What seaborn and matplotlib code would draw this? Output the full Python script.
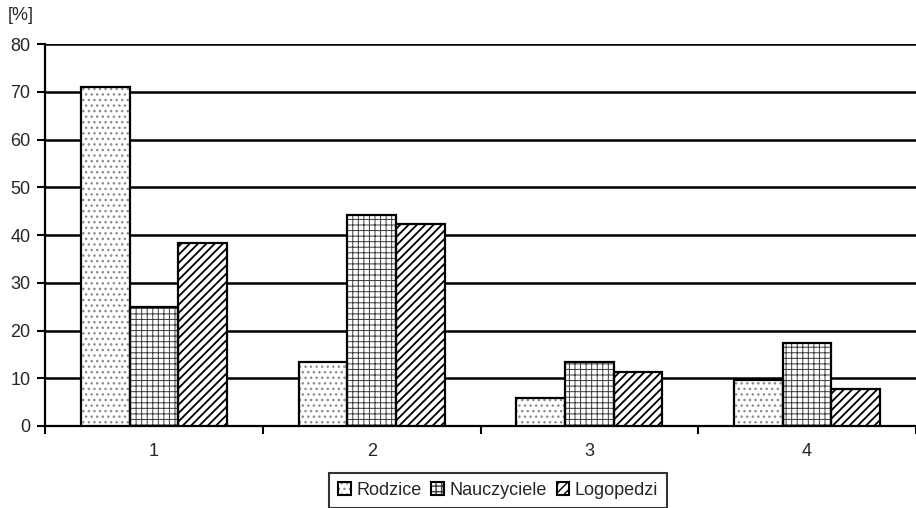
import matplotlib
matplotlib.use("Agg")
import matplotlib.pyplot as plt
from matplotlib.patches import Patch, Rectangle
from matplotlib.legend_handler import HandlerTuple
import seaborn as sns
import pandas as pd

categories = ["1", "2", "3", "4"]
series = ["Rodzice", "Nauczyciele", "Logopedzi"]
rodzice = [71.0, 13.4, 5.9, 9.6]
nauczyciele = [25.0, 44.2, 13.4, 17.4]
logopedzi = [38.3, 42.3, 11.4, 7.7]
yticks = [0, 10, 20, 30, 40, 50, 60, 70, 80]

rows = []
for name, vals in zip(series, [rodzice, nauczyciele, logopedzi]):
    for c, v in zip(categories, vals):
        rows.append({"cat": c, "series": name, "val": v})
df = pd.DataFrame(rows)

sns.set_theme(style="white")
plt.rcParams['font.family'] = ['Liberation Sans', 'DejaVu Sans']
FS = 13

fig = plt.figure(figsize=(9.16, 5.08), dpi=100)
ax = fig.add_axes([45/916, 82/508, (916-45)/916, (426-44)/508])

sns.barplot(data=df, x="cat", y="val", hue="series", order=categories,
            hue_order=series, ax=ax, width=0.67, gap=0, legend=False,
            palette=["white"]*3, saturation=1, edgecolor="black", linewidth=1.6,
            zorder=3)

hatches = ["...", "+++", "////"]
hcolors = ["#8c8c8c", "#3a3a3a", "black"]
hlw = [1.0, 0.7, 1.3]


def style_hatch(p, h, hc, lw):
    p.set_hatch(h)
    p.set_facecolor("white")
    p.set_edgecolor(hc)
    p.set_linewidth(0)
    if hasattr(p, "set_hatch_linewidth"):
        p.set_hatch_linewidth(lw)
    else:
        p._hatch_linewidth = lw


for cont, h, hc, lw in zip(ax.containers, hatches, hcolors, hlw):
    for p in cont:
        style_hatch(p, h, hc, lw)
        ax.add_patch(Rectangle(p.get_xy(), p.get_width(), p.get_height(),
                               fill=False, edgecolor="black", linewidth=1.6, zorder=4))

ax.set_xlim(-0.5, 3.5)
ax.set_ylim(0, 80)
ax.set_yticks(yticks)
ax.set_yticklabels([str(t) for t in yticks], fontsize=FS)
ax.yaxis.grid(True, color="black", linewidth=1.8, zorder=0)
ax.set_axisbelow(True)
ax.set_xticks([-0.5, 0.5, 1.5, 2.5, 3.5])
ax.set_xticklabels([])
ax.set_xticks([0, 1, 2, 3], minor=True)
ax.set_xticklabels(categories, minor=True, fontsize=FS)
ax.tick_params(axis="x", which="major", length=6, width=1.5, color="black", direction="out", bottom=True)
ax.tick_params(axis="x", which="minor", length=0, pad=12)
ax.tick_params(axis="y", length=5.5, width=1.5, color="black", direction="out", left=True, pad=5)
ax.set_xlabel("")
ax.set_ylabel("")
for s in ["top", "right"]:
    ax.spines[s].set_visible(False)
for s in ["left", "bottom"]:
    ax.spines[s].set_color("black")
    ax.spines[s].set_linewidth(1.6)

fig.text(8/916, 1 - 15/508, "[%]", fontsize=FS, va="center", ha="left")

handles = []
for name, h, hc, lw in zip(series, hatches, hcolors, hlw):
    ph = Patch(label=name)
    style_hatch(ph, h, hc, lw)
    pe = Patch(fill=False, edgecolor="black", linewidth=1.5)
    handles.append((ph, pe))
leg = fig.legend(handles=handles, labels=series, handler_map={tuple: HandlerTuple(ndivide=1, pad=0)},
                 loc="upper center", bbox_to_anchor=(498/916, 1 - 473/508),
                 ncol=3, frameon=True, fancybox=False, fontsize=FS, handlelength=0.7,
                 handleheight=0.7, handletextpad=0.3, columnspacing=0.55, borderpad=0.5,
                 borderaxespad=0)
leg.get_frame().set_edgecolor("black")
leg.get_frame().set_linewidth(1.5)

fig.savefig("out.png", dpi=100)
